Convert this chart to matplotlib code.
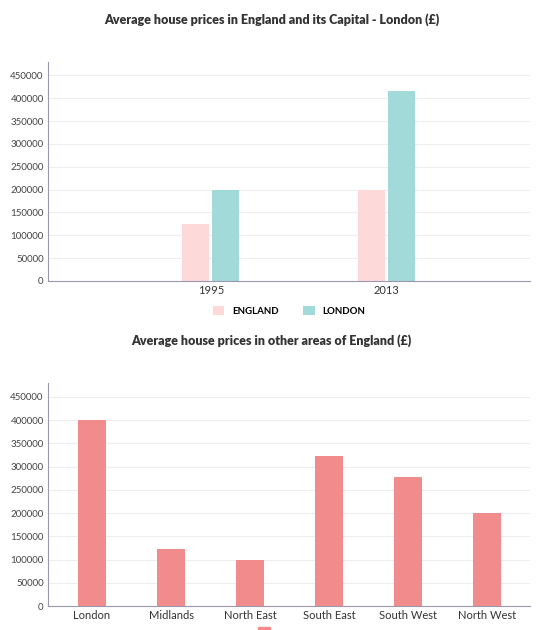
import matplotlib.pyplot as plt
import numpy as np

years = ['1995', '2013']
england = [125000, 200000]
london = [200000, 415000]

areas = ['London', 'Midlands', 'North East', 'South East', 'South West', 'North West']
area_prices = [400000, 122000, 100000, 323000, 277000, 200000]

yticks = np.arange(0, 450001, 50000)

fig = plt.figure(figsize=(5.43, 6.30), dpi=100)
plt.rcParams['font.family'] = ['Lato', 'DejaVu Sans']


def style(ax):
    for s in ['top', 'right']:
        ax.spines[s].set_visible(False)
    ax.spines['left'].set_color('#9a97b0')
    ax.spines['bottom'].set_color('#9a97b0')
    ax.set_yticks(yticks)
    ax.set_yticklabels([str(v) for v in yticks], fontsize=7, color='#444444')
    ax.set_ylim(0, 480000)
    ax.grid(axis='y', color='#eeeeee', linewidth=0.8)
    ax.set_axisbelow(True)
    ax.tick_params(axis='both', length=0, pad=3)


# top chart
ax1 = fig.add_axes([0.088, 0.554, 0.888, 0.348])
x = np.arange(len(years))
ax1.bar(x - 0.085, england, 0.155, color='#fdd9d9', label='ENGLAND')
ax1.bar(x + 0.085, london, 0.155, color='#a2d9d9', label='LONDON')
ax1.set_xlim(-0.926, 1.814)
ax1.set_xticks(x)
ax1.set_xticklabels(years, fontsize=8, color='#333333')
style(ax1)
ax1.legend(loc='upper center', bbox_to_anchor=(0.5, -0.075), ncol=2, frameon=False,
           handlelength=1.2, handleheight=1.0, columnspacing=2.5,
           prop={'size': 7, 'weight': 'bold'})
fig.text(0.5, 0.962, 'Average house prices in England and its Capital - London (£)',
         ha='center', fontsize=9, fontweight='heavy', color='#333333')

# bottom chart
ax2 = fig.add_axes([0.088, 0.038, 0.888, 0.354])
x2 = np.arange(len(areas))
ax2.bar(x2, area_prices, 0.35, color='#f28b8b')
ax2.set_xlim(-0.56, 5.54)
ax2.set_xticks(x2)
ax2.set_xticklabels(areas, fontsize=8, color='#333333')
style(ax2)
fig.text(0.5, 0.453, 'Average house prices in other areas of England (£)',
         ha='center', fontsize=9, fontweight='heavy', color='#333333')
fig.patches.append(plt.Rectangle((0.475, 0.0), 0.022, 0.004, color='#f28b8b',
                                 transform=fig.transFigure, figure=fig))

fig.savefig('out.png', dpi=100)
